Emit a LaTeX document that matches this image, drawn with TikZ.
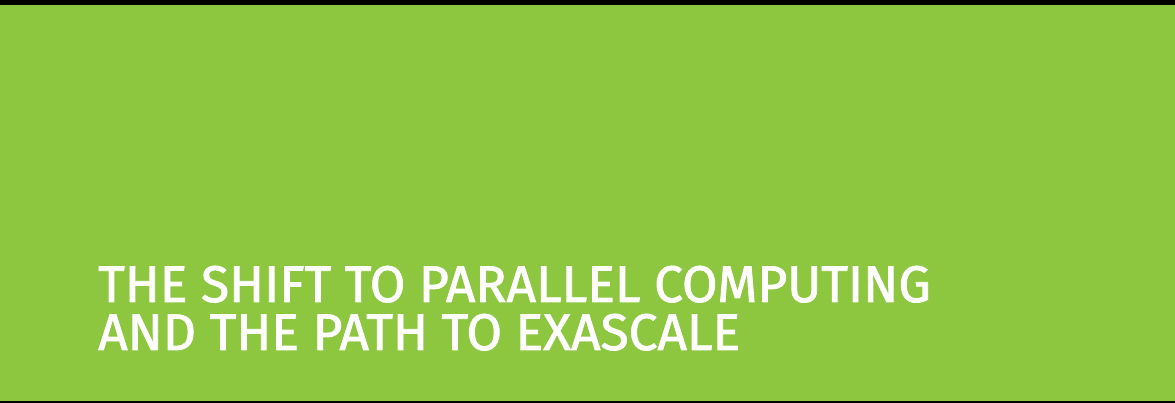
\documentclass[tikz,border=0pt]{standalone}
\usepackage{fontspec}
\setmainfont{Fira Sans}[FakeBold=1.6]
\definecolor{leaf}{HTML}{8DC63F}
\begin{document}
\begin{tikzpicture}[x=1pt,y=1pt,
  title/.style={anchor=base west, inner sep=0pt, text=white,
    font=\fontsize{51.5}{51.5}\selectfont}]
\useasboundingbox (0,0) rectangle (1175,403);
\fill[leaf] (0,0) rectangle (1175,403);
\fill[black] (0,398) rectangle (1175,403);
\fill[black] (0,0) rectangle (1175,1.5);
\node[title] (l1) at (98,101) {THE SHIFT TO PARALLEL COMPUTING};
\node[title] (l2) at (98,53) {AND THE PATH TO EXASCALE};
\end{tikzpicture}
\end{document}
